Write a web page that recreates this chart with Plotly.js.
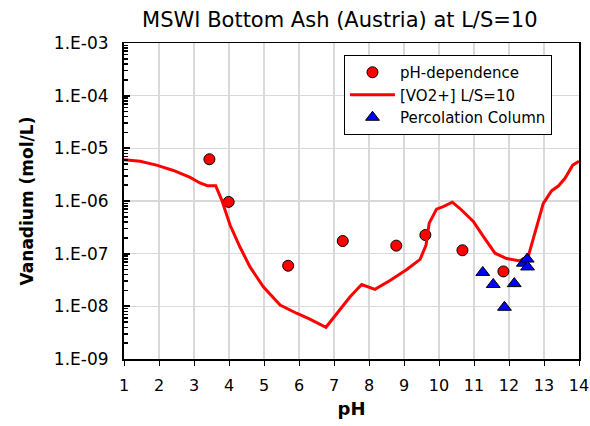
<!DOCTYPE html>
<html>
<head>
<meta charset="utf-8">
<script src="https://cdn.plot.ly/plotly-3.0.1.min.js"></script>
<style>html,body{margin:0;padding:0;background:#fff;}#chart{width:590px;height:426px;}</style>
</head>
<body>
<div id="chart"></div>
<script>
// Model curve [VO2+] L/S=10
const linePH = [1.0, 1.46, 1.93, 2.41, 2.89, 3.17, 3.38, 3.62, 3.79, 4.03, 4.31, 4.6, 4.98, 5.46, 5.93, 6.31, 6.77, 7.08, 7.46, 7.79, 8.17, 8.6, 9.08, 9.46, 9.63, 9.72, 9.93, 10.12, 10.38, 10.6, 10.98, 11.27, 11.6, 11.93, 12.31, 12.55, 12.74, 12.98, 13.22, 13.41, 13.6, 13.82, 14.0];
const lineV = [6.1e-6, 5.7e-6, 4.8e-6, 3.8e-6, 2.8e-6, 2.2e-6, 1.95e-6, 1.95e-6, 1.05e-6, 3.5e-7, 1.35e-7, 5.6e-8, 2.35e-8, 1.06e-8, 7.4e-9, 5.7e-9, 4.0e-9, 7.4e-9, 1.52e-8, 2.6e-8, 2.1e-8, 3.1e-8, 5.0e-8, 7.8e-8, 1.46e-7, 3.8e-7, 7.0e-7, 7.8e-7, 9.5e-7, 7.2e-7, 4.1e-7, 2.1e-7, 1.02e-7, 8.1e-8, 7.3e-8, 8.9e-8, 2.43e-7, 9.0e-7, 1.57e-6, 1.92e-6, 2.7e-6, 4.8e-6, 5.7e-6];

// pH-dependence test
const phDepPH = [3.44, 3.99, 5.69, 7.25, 8.78, 9.61, 10.67, 11.84];
const phDepV = [6.2e-6, 9.6e-7, 5.9e-8, 1.74e-7, 1.42e-7, 2.26e-7, 1.16e-7, 4.6e-8];

// Percolation column
const percPH = [11.25, 11.55, 12.15, 11.87, 12.41, 12.52, 12.53];
const percV = [4.4e-8, 2.6e-8, 2.7e-8, 9.6e-9, 6.6e-8, 7.9e-8, 5.6e-8];

// Axis ticks
const yTickVals = [1e-9, 1e-8, 1e-7, 1e-6, 1e-5, 1e-4, 1e-3];
const yTickText = ["1.E-09", "1.E-08", "1.E-07", "1.E-06", "1.E-05", "1.E-04", "1.E-03"];
const xTickVals = [1, 2, 3, 4, 5, 6, 7, 8, 9, 10, 11, 12, 13, 14];

const FONT = "DejaVu Sans, Verdana, sans-serif";

const traces = [
  {
    x: phDepPH, y: phDepV, type: 'scatter', mode: 'markers', name: 'pH-dependence',
    marker: {symbol: 'circle', size: 11, color: '#ff0000', line: {color: '#000000', width: 1}}
  },
  {
    x: linePH, y: lineV, type: 'scatter', mode: 'lines', name: '[VO2+] L/S=10',
    line: {color: '#ff0000', width: 3}
  },
  {
    x: percPH, y: percV, type: 'scatter', mode: 'markers', name: 'Percolation Column',
    marker: {symbol: 'triangle-up', size: 12, color: '#0000ff', line: {color: '#000000', width: 1}}
  }
];

const layout = {
  width: 590, height: 426,
  margin: {l: 124, r: 11, t: 43, b: 67},
  paper_bgcolor: '#ffffff', plot_bgcolor: '#ffffff',
  font: {family: FONT, size: 15, color: '#000000'},
  showlegend: true,
  title: {text: 'MSWI Bottom Ash (Austria) at L/S=10', font: {family: FONT, size: 21, color: '#000'}, x: 0.576, xref: 'container', xanchor: 'center', y: 0.955, yref: 'container', yanchor: 'middle'},
  xaxis: {
    range: [1, 14], tickmode: 'array', tickvals: xTickVals,
    showgrid: true, gridcolor: '#d9d9d9', gridwidth: 1.5,
    showline: true, linecolor: '#000', linewidth: 1.5, mirror: true,
    ticks: 'outside', ticklen: 5, tickcolor: '#000', tickwidth: 1,
    tickfont: {family: FONT, size: 16}, ticklabelstandoff: 6,
    zeroline: false,
    title: {text: '<b>pH</b>', font: {family: FONT, size: 18}, standoff: 8}
  },
  yaxis: {
    type: 'log', range: [-9, -3], tickmode: 'array', tickvals: yTickVals, ticktext: yTickText,
    showgrid: true, gridcolor: '#d9d9d9', gridwidth: 1.5,
    showline: true, linecolor: '#000', linewidth: 2, mirror: true,
    ticks: 'inside', ticklen: 6, tickcolor: '#000', tickwidth: 2,
    minor: {ticks: 'inside', ticklen: 4, tickcolor: '#000', tickwidth: 1.5, dtick: 'D1', showgrid: false},
    tickfont: {family: FONT, size: 17}, ticklabelstandoff: 10,
    zeroline: false,
    title: {text: '<b>Vanadium (mol/L)</b>', font: {family: FONT, size: 17}, standoff: 16}
  },
  legend: {
    x: 0.4835, y: 0.962, xanchor: 'left', yanchor: 'top',
    bgcolor: '#ffffff', bordercolor: '#000000', borderwidth: 1,
    font: {family: FONT, size: 15}, itemwidth: 45, tracegroupgap: 0
  }
};

Plotly.newPlot('chart', traces, layout, {displayModeBar: false, staticPlot: true});
</script>
</body>
</html>
